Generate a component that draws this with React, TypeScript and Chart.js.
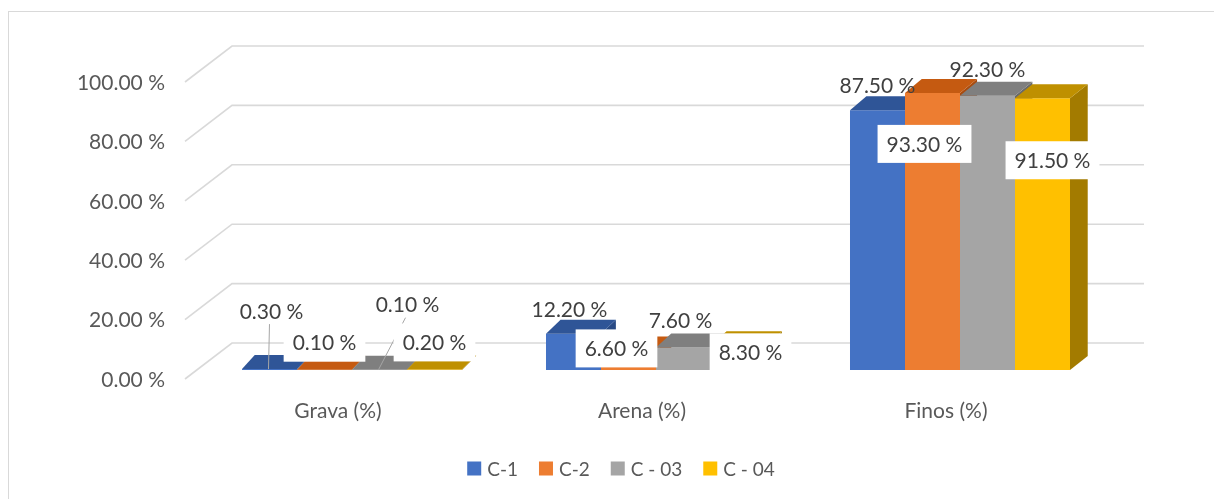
import React, { useEffect, useRef } from "react";
import { Chart, registerables } from "chart.js";

Chart.register(...registerables);

const categories = ["Grava (%)", "Arena (%)", "Finos (%)"];
const seriesNames = ["C-1", "C-2", "C - 03", "C - 04"];
const c1Values = [0.3, 12.2, 87.5];
const c2Values = [0.1, 6.6, 93.3];
const c03Values = [0.1, 7.6, 92.3];
const c04Values = [0.2, 8.3, 91.5];
const yTickValues = [0, 20, 40, 60, 80, 100];

const frontColors = ["#4472C4", "#ED7D31", "#A5A5A5", "#FFC000"];
const topColors = ["#2F5597", "#C55A11", "#7F7F7F", "#BF9000"];
const sideColors = ["#284A85", "#A84C10", "#6A6A6A", "#A37B00"];

// label placement relative to the top-centre of each bar's front face
const labelOffsets = [
  [[2, -58], [-4, -25], [0, -25]],
  [[0, -27], [-12, -2], [-8, 51]],
  [[28, -65], [-3, -27], [0, -27]],
  [[0, -27], [12, 7], [10, 62]],
];
const boxedSeries = [false, true, false, true];
const leaderLines = [
  [true, false, false],
  [false, false, false],
  [true, false, false],
  [false, false, false],
];

const FRONT_WALL = { dx: -15, dy: 9 };
const BACK_WALL = { dx: 32, dy: -27 };
const BAR_DEPTH_DY = -14;
const depthDx = (x: number) => 12.5 + 0.006 * (x - 200);

const LABEL_FONT = "21px Lato";
const LEGEND_FONT = "19px Lato";
const AXIS_COLOR = "#595959";
const LABEL_COLOR = "#404040";

const fmt = (v: number) => v.toFixed(2) + " %";

const threeD = {
  id: "threeD",
  beforeDraw(chart: any) {
    const ctx = chart.ctx;
    ctx.save();
    ctx.fillStyle = "#ffffff";
    ctx.fillRect(0, 0, chart.width, chart.height);
    ctx.strokeStyle = "#d9d9d9";
    ctx.lineWidth = 1;
    ctx.strokeRect(8.5, 11.5, chart.width + 20, chart.height + 20);
    ctx.restore();
  },
  beforeDatasetsDraw(chart: any) {
    const ctx = chart.ctx;
    const { left, right } = chart.chartArea;
    const y = chart.scales.y;
    const x = chart.scales.x;
    ctx.save();
    // walls & gridlines
    ctx.strokeStyle = "#d9d9d9";
    ctx.lineWidth = 1.6;
    for (const v of yTickValues) {
      const yb = y.getPixelForValue(v);
      ctx.beginPath();
      ctx.moveTo(left + FRONT_WALL.dx, yb + FRONT_WALL.dy);
      ctx.lineTo(left + BACK_WALL.dx, yb + BACK_WALL.dy);
      ctx.lineTo(right + BACK_WALL.dx, yb + BACK_WALL.dy);
      ctx.stroke();
    }
    // y tick labels
    ctx.font = LABEL_FONT;
    ctx.fillStyle = AXIS_COLOR;
    ctx.textAlign = "right";
    ctx.textBaseline = "middle";
    for (const v of yTickValues) {
      const yb = y.getPixelForValue(v);
      ctx.fillText(fmt(v), left + FRONT_WALL.dx - 20, yb + FRONT_WALL.dy + 1);
    }
    // x category labels
    ctx.textAlign = "center";
    categories.forEach((c, j) => {
      ctx.fillText(c, x.getPixelForValue(j) - 14, 411);
    });

    // bars: painter's order left to right within each cluster
    const metas = seriesNames.map((_, i) => chart.getDatasetMeta(i));
    for (let j = 0; j < categories.length; j++) {
      for (let i = 0; i < metas.length; i++) {
        const el = metas[i].data[j];
        const p = el.getProps(["x", "y", "base", "width"], true);
        const l = p.x - p.width / 2;
        const r = p.x + p.width / 2;
        const dxL = depthDx(l);
        const dxR = depthDx(r);
        el.draw(ctx, chart.chartArea);
        // side
        ctx.fillStyle = sideColors[i];
        ctx.beginPath();
        ctx.moveTo(r, p.y);
        ctx.lineTo(r + dxR, p.y + BAR_DEPTH_DY);
        ctx.lineTo(r + dxR, p.base + BAR_DEPTH_DY);
        ctx.lineTo(r, p.base);
        ctx.closePath();
        ctx.fill();
        // top
        ctx.fillStyle = topColors[i];
        ctx.beginPath();
        ctx.moveTo(l, p.y);
        ctx.lineTo(r, p.y);
        ctx.lineTo(r + dxR, p.y + BAR_DEPTH_DY);
        ctx.lineTo(l + dxL, p.y + BAR_DEPTH_DY);
        ctx.closePath();
        ctx.fill();
      }
    }
    ctx.restore();
    return false;
  },
  afterDraw(chart: any) {
    const ctx = chart.ctx;
    ctx.save();
    const metas = seriesNames.map((_, i) => chart.getDatasetMeta(i));
    // leader lines
    ctx.strokeStyle = "#a6a6a6";
    ctx.lineWidth = 1;
    metas.forEach((meta: any, i: number) => {
      meta.data.forEach((el: any, j: number) => {
        if (!leaderLines[i][j]) return;
        const p = el.getProps(["x", "y"], true);
        const lx = p.x + labelOffsets[i][j][0];
        const ly = p.y + labelOffsets[i][j][1];
        ctx.beginPath();
        ctx.moveTo(p.x - 1, p.y);
        ctx.lineTo(lx - 2, ly + 13);
        ctx.stroke();
      });
    });
    // data labels
    ctx.font = LABEL_FONT;
    ctx.textAlign = "center";
    ctx.textBaseline = "middle";
    metas.forEach((meta: any, i: number) => {
      const values = chart.data.datasets[i].data;
      meta.data.forEach((el: any, j: number) => {
        const p = el.getProps(["x", "y"], true);
        const lx = p.x + labelOffsets[i][j][0];
        const ly = p.y + labelOffsets[i][j][1];
        const text = fmt(values[j]);
        if (boxedSeries[i]) {
          const tw = ctx.measureText(text).width;
          ctx.fillStyle = "#ffffff";
          ctx.fillRect(lx - tw / 2 - 9, ly - 19, tw + 18, 38);
        }
        ctx.fillStyle = LABEL_COLOR;
        ctx.fillText(text, lx, ly + 1);
      });
    });
    // legend
    ctx.font = LEGEND_FONT;
    ctx.textAlign = "left";
    const sq = 14;
    const gapIn = 6;
    const gapOut = 21;
    const widths = seriesNames.map((n) => sq + gapIn + ctx.measureText(n).width);
    const total = widths.reduce((a, b) => a + b, 0) + gapOut * (widths.length - 1);
    let cx = 621 - total / 2;
    const ly = 468.5;
    seriesNames.forEach((n, i) => {
      ctx.fillStyle = frontColors[i];
      ctx.fillRect(cx, ly - sq / 2, sq, sq);
      ctx.fillStyle = AXIS_COLOR;
      ctx.fillText(n, cx + sq + gapIn, ly + 1);
      cx += widths[i] + gapOut;
    });
    ctx.restore();
  },
};

export default function App() {
  const ref = useRef<HTMLCanvasElement>(null);
  useEffect(() => {
    const seriesValues = [c1Values, c2Values, c03Values, c04Values];
    const chart = new Chart(ref.current as HTMLCanvasElement, {
      type: "bar",
      data: {
        labels: categories,
        datasets: seriesNames.map((name, i) => ({
          label: name,
          data: seriesValues[i],
          backgroundColor: frontColors[i],
          borderWidth: 0,
          categoryPercentage: 0.7237,
          barPercentage: 1,
        })),
      },
      options: {
        responsive: false,
        animation: false,
        devicePixelRatio: 1,
        layout: { padding: { left: 200, right: 102, top: 73, bottom: 129 } },
        scales: {
          x: { display: false },
          y: { display: false, min: 0, max: 100 },
        },
        plugins: {
          legend: { display: false },
          tooltip: { enabled: false },
          title: { display: false },
        },
      },
      plugins: [threeD],
    });
    return () => chart.destroy();
  }, []);
  return (
    <div style={{ position: "fixed", left: 0, top: 0, width: 1214, height: 499, background: "#fff", overflow: "hidden" }}>
      <canvas ref={ref} width={1214} height={499} style={{ display: "block", width: 1214, height: 499 }} />
    </div>
  );
}
